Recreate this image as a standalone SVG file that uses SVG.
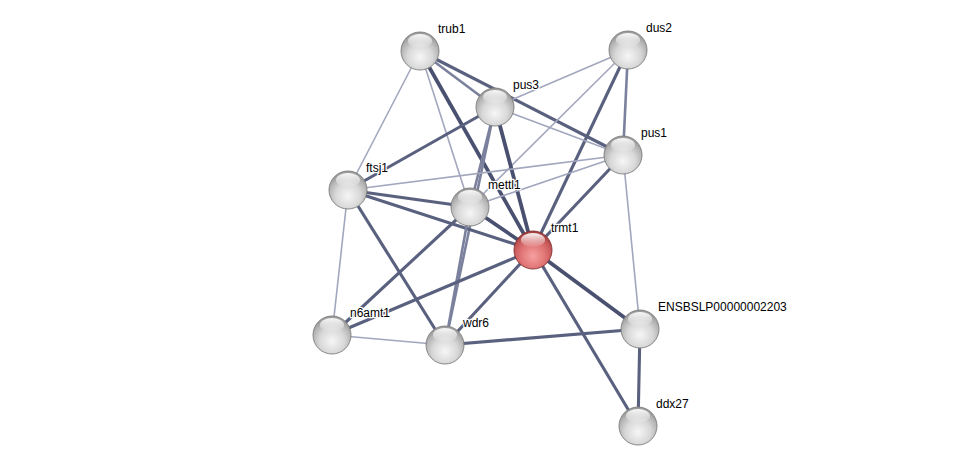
<svg xmlns="http://www.w3.org/2000/svg" width="976" height="472" viewBox="0 0 976 472">
<defs>
<radialGradient id="gGray" cx="50%" cy="66%" r="60%">
<stop offset="0" stop-color="#f6f6f6"/>
<stop offset="0.55" stop-color="#d8d8d8"/>
<stop offset="0.85" stop-color="#b4b4b4"/>
<stop offset="1" stop-color="#9c9c9c"/>
</radialGradient>
<radialGradient id="gRed" cx="50%" cy="66%" r="60%">
<stop offset="0" stop-color="#f7a0a0"/>
<stop offset="0.55" stop-color="#e07474"/>
<stop offset="0.85" stop-color="#c55757"/>
<stop offset="1" stop-color="#a84242"/>
</radialGradient>
<linearGradient id="hl" x1="0" y1="0" x2="0" y2="1">
<stop offset="0" stop-color="#ffffff" stop-opacity="0.95"/>
<stop offset="1" stop-color="#ffffff" stop-opacity="0.05"/>
</linearGradient>
<g id="ball">
<circle r="19" fill="url(#gGray)" stroke="#7d7d7d" stroke-width="0.9"/>
<ellipse cx="0" cy="-10" rx="12" ry="7" fill="url(#hl)"/>
</g>
<g id="ballRed">
<circle r="19" fill="url(#gRed)" stroke="#7e3030" stroke-width="0.9"/>
<ellipse cx="0" cy="-10" rx="12" ry="7" fill="url(#hl)"/>
</g>
</defs>
<style>
.e{fill:none;stroke-linecap:butt}
.l{stroke:#a2a7be;stroke-width:1.6}
.m{stroke:#7b819d;stroke-width:2.6}
.d{stroke:#5a617f;stroke-width:3.1}
.k{stroke:#4a5170;stroke-width:3.8}
text{font-family:"Liberation Sans",Arial,sans-serif;font-size:12px;fill:#000;stroke:#fff;stroke-width:2.5;stroke-linejoin:round;paint-order:stroke}
</style>
<rect width="976" height="472" fill="#fff"/>
<g id="edges">
<line class="e l" x1="420" y1="51" x2="348" y2="190"/>
<line class="e l" x1="420" y1="51" x2="470" y2="207"/>
<line class="e k" x1="420" y1="51" x2="533" y2="250"/>
<line class="e m" x1="420" y1="51" x2="495" y2="107"/>
<line class="e d" x1="420" y1="51" x2="623" y2="155"/>
<line class="e l" x1="628" y1="50" x2="495" y2="107"/>
<line class="e l" x1="628" y1="50" x2="470" y2="207"/>
<line class="e d" x1="628" y1="50" x2="533" y2="250"/>
<line class="e m" x1="628" y1="50" x2="623" y2="155"/>
<line class="e l" x1="495" y1="107" x2="623" y2="155"/>
<line class="e d" x1="495" y1="107" x2="348" y2="190"/>
<line class="e k" x1="495" y1="107" x2="533" y2="250"/>
<line class="e m" x1="495" y1="107" x2="470" y2="207"/>
<line class="e m" x1="495" y1="107" x2="445" y2="345"/>
<line class="e l" x1="623" y1="155" x2="348" y2="190"/>
<line class="e l" x1="623" y1="155" x2="470" y2="207"/>
<line class="e d" x1="623" y1="155" x2="533" y2="250"/>
<line class="e l" x1="623" y1="155" x2="640" y2="329"/>
<line class="e d" x1="348" y1="190" x2="470" y2="207"/>
<line class="e d" x1="348" y1="190" x2="533" y2="250"/>
<line class="e l" x1="348" y1="190" x2="332" y2="335"/>
<line class="e d" x1="348" y1="190" x2="445" y2="345"/>
<line class="e k" x1="470" y1="207" x2="533" y2="250"/>
<line class="e d" x1="470" y1="207" x2="332" y2="335"/>
<line class="e m" x1="470" y1="207" x2="445" y2="345"/>
<line class="e d" x1="533" y1="250" x2="332" y2="335"/>
<line class="e d" x1="533" y1="250" x2="445" y2="345"/>
<line class="e k" x1="533" y1="250" x2="640" y2="329"/>
<line class="e d" x1="533" y1="250" x2="638" y2="426"/>
<line class="e l" x1="332" y1="335" x2="445" y2="345"/>
<line class="e d" x1="445" y1="345" x2="640" y2="329"/>
<line class="e d" x1="640" y1="329" x2="638" y2="426"/>
</g>
<g id="trub1"><use href="#ball" x="420" y="51"/><text x="438" y="33">trub1</text></g>
<g id="dus2"><use href="#ball" x="628" y="50"/><text x="646" y="32">dus2</text></g>
<g id="pus3"><use href="#ball" x="495" y="107"/><text x="513" y="89">pus3</text></g>
<g id="pus1"><use href="#ball" x="623" y="155"/><text x="641" y="137">pus1</text></g>
<g id="ftsj1"><use href="#ball" x="348" y="190"/><text x="366" y="172">ftsj1</text></g>
<g id="mettl1"><use href="#ball" x="470" y="207"/><text x="488" y="189">mettl1</text></g>
<g id="n6amt1"><use href="#ball" x="332" y="335"/><text x="350" y="317">n6amt1</text></g>
<g id="wdr6"><use href="#ball" x="445" y="345"/><text x="463" y="327">wdr6</text></g>
<g id="ENSBSLP00000002203"><use href="#ball" x="640" y="329"/><text x="658" y="311">ENSBSLP00000002203</text></g>
<g id="ddx27"><use href="#ball" x="638" y="426"/><text x="656" y="408">ddx27</text></g>
<g id="trmt1"><use href="#ballRed" x="533" y="250"/><text x="551" y="232">trmt1</text></g>
</svg>
